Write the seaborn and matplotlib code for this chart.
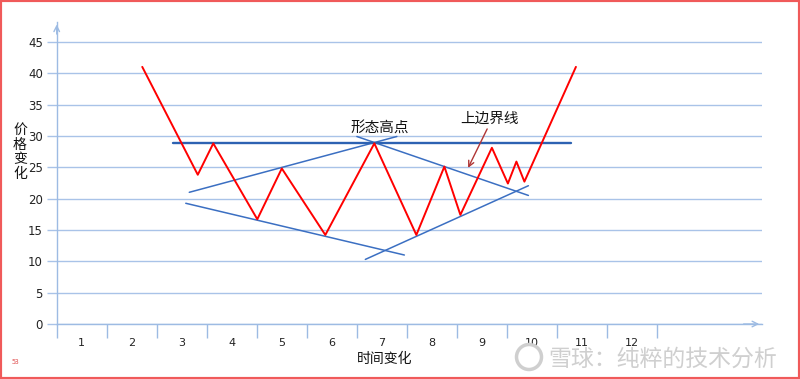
import matplotlib
matplotlib.use("Agg")
import matplotlib.pyplot as plt
import seaborn as sns
from matplotlib.patches import Rectangle, Ellipse

# price path (red zigzag)
price_x = [2.21, 3.32, 3.63, 4.51, 5.0, 5.87, 6.85, 7.69, 8.25, 8.57, 9.2, 9.52, 9.69, 9.85, 10.88]
price_y = [41.0, 23.8, 28.8, 16.7, 24.8, 14.2, 28.8, 14.2, 25.1, 17.4, 28.1, 22.4, 25.9, 22.7, 41.0]

# upper boundary (horizontal)
bound_x = [2.83, 10.78]
bound_y = [28.9, 28.9]

# trend lines
upper_rise_x = [3.15, 7.3]
upper_rise_y = [21.0, 29.9]
upper_fall_x = [6.5, 9.93]
upper_fall_y = [29.9, 20.5]
lower_fall_x = [3.08, 7.45]
lower_fall_y = [19.25, 11.0]
lower_rise_x = [6.67, 9.93]
lower_rise_y = [10.3, 22.05]

x_ticks = list(range(1, 13))
x_bounds = [i + 0.5 for i in range(0, 13)]
y_ticks = list(range(0, 50, 5))

sns.set_style("white")
plt.rcParams['font.family'] = ['Noto Sans CJK SC', 'DejaVu Sans']

axis_col = '#9dbbe3'
grid_col = '#a9c3e8'
trend_col = '#3b6fc2'

fig = plt.figure(figsize=(8, 3.79), dpi=100)
ax = fig.add_axes([0.0709, 0.1451, 0.8816, 0.7976])

sns.lineplot(x=upper_rise_x, y=upper_rise_y, ax=ax, color=trend_col, lw=1.1, sort=False, estimator=None)
sns.lineplot(x=upper_fall_x, y=upper_fall_y, ax=ax, color=trend_col, lw=1.1, sort=False, estimator=None)
sns.lineplot(x=lower_fall_x, y=lower_fall_y, ax=ax, color=trend_col, lw=1.1, sort=False, estimator=None)
sns.lineplot(x=lower_rise_x, y=lower_rise_y, ax=ax, color=trend_col, lw=1.1, sort=False, estimator=None)
sns.lineplot(x=bound_x, y=bound_y, ax=ax, color='#2d62b2', lw=1.7, sort=False, estimator=None)
sns.lineplot(x=price_x, y=price_y, ax=ax, color='#ff0000', lw=1.4, sort=False, estimator=None)

ax.set_xlim(0.5, 14.6)
ax.set_ylim(0, 48.2)
ax.set_yticks(y_ticks)
ax.set_xticks(x_ticks)
ax.set_xticks(x_bounds, minor=True)
ax.set_xticklabels([str(t) for t in x_ticks], family='DejaVu Sans', fontsize=8)
ax.set_yticklabels([str(t) for t in y_ticks], family='DejaVu Sans', fontsize=8.5)
ax.tick_params(axis='x', which='major', bottom=True, length=0, pad=10, colors='#222222')
ax.tick_params(axis='x', which='minor', bottom=True, length=10, width=1, color=axis_col, direction='out')
ax.tick_params(axis='y', left=True, length=7, width=1, color=grid_col, pad=3, labelcolor='#222222',
               direction='out')
ax.yaxis.grid(True, color=grid_col, lw=1)
ax.xaxis.grid(False)
ax.set_axisbelow(True)
for s in ['top', 'right']:
    ax.spines[s].set_visible(False)
for s in ['left', 'bottom']:
    ax.spines[s].set_color(axis_col)
    ax.spines[s].set_linewidth(1)
ax.set_xlabel('')
ax.set_ylabel('')

# axis arrows
ax.annotate('', xy=(1.0, 0), xytext=(0.97, 0), xycoords='axes fraction',
            arrowprops=dict(arrowstyle='->', color=axis_col, lw=1), annotation_clip=False)
ax.annotate('', xy=(0, 1.0), xytext=(0, 0.95), xycoords='axes fraction',
            arrowprops=dict(arrowstyle='->', color=axis_col, lw=1), annotation_clip=False)

# annotations
ax.text(6.37, 31.3, '形态高点', fontsize=10.5, va='center', ha='left', color='#111111')
ax.text(8.57, 32.7, '上边界线', fontsize=10.5, va='center', ha='left', color='#111111')
ax.annotate('', xy=(8.70, 24.5), xytext=(9.13, 31.5),
            arrowprops=dict(arrowstyle='->', color='#b03535', lw=1))

# axis titles
fig.text(20 / 800, 1 - 152 / 379, '价\n格\n变\n化', fontsize=10, ha='center', va='center',
         linespacing=1.05, color='#111111')
fig.text(385 / 800, 1 - 359 / 379, '时间变化', fontsize=10, ha='center', va='center', color='#111111')

# watermark
fig.text(0.971, 1 - 359 / 379, '雪球：纯粹的技术分析', fontsize=16.5, ha='right', va='center',
         color='#cfcfcf')
fig.patches.append(Ellipse((529 / 800, 1 - 357 / 379), 25 / 800, 25 / 379, transform=fig.transFigure,
                           fill=False, edgecolor='#cfcfcf', lw=2.5))
fig.text(12 / 800, 1 - 362 / 379, '53', fontsize=5, color='#e05050', ha='left', va='center')

# red frame
fig.patches.append(Rectangle((0, 0), 1, 1, transform=fig.transFigure, fill=False,
                             edgecolor='#f05a5a', lw=3))

fig.savefig('out.png', dpi=100)
